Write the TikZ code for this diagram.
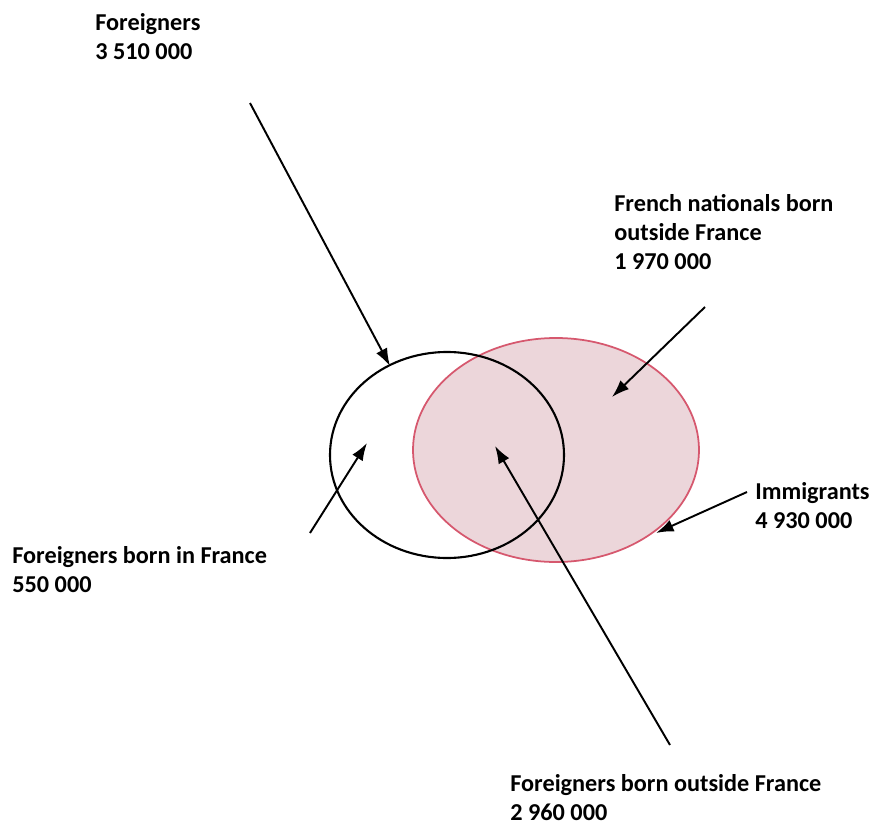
\documentclass[tikz,border=0pt]{standalone}
\usepackage{fontspec}
\setmainfont{Carlito}
\usepackage{xcolor}
\usetikzlibrary{arrows.meta}
\definecolor{immfill}{RGB}{236,214,218}
\definecolor{immdraw}{RGB}{214,88,110}
\tikzset{
  lbl/.style={anchor=north west,align=left,inner sep=0pt,font=\fontsize{13.8}{16.6}\selectfont\bfseries},
  ptr/.style={-{Latex[length=10pt,width=7pt]},line width=1.1pt}
}

\begin{document}
\begin{tikzpicture}[x=0.02cm,y=-0.02cm]
\useasboundingbox (0,0) rectangle (870,825);
% the two sets
\draw[fill=immfill,draw=immdraw,line width=1pt] (556,450) ellipse (143 and 112);
\draw[line width=1.2pt] (447,455) ellipse (117 and 103);
% labels
\node[lbl] (foreign) at (95,13) {Foreigners\\3 510 000};
\node[lbl] (french) at (614,194) {French nationals born\\outside France\\1 970 000};
\node[lbl] (immig) at (755,482) {Immigrants\\4 930 000};
\node[lbl] (inside) at (12,546) {Foreigners born in France\\550 000};
\node[lbl] (outside) at (510,774) {Foreigners born outside France\\2 960 000};
% arrow ends
\coordinate (foreignS) at (250,103); \coordinate (foreignT) at (390,366);
\coordinate (frenchS) at (705,307);  \coordinate (frenchT) at (612,397);
\coordinate (immigS) at (747,492);   \coordinate (immigT) at (656,533);
\coordinate (insideS) at (310,533);  \coordinate (insideT) at (367,443);
\coordinate (outsideS) at (670,745); \coordinate (outsideT) at (495,446);
\draw[ptr] (foreignS) -- (foreignT);
\draw[ptr] (frenchS) -- (frenchT);
\draw[ptr] (immigS) -- (immigT);
\draw[ptr] (insideS) -- (insideT);
\draw[ptr] (outsideS) -- (outsideT);
\end{tikzpicture}
\end{document}
